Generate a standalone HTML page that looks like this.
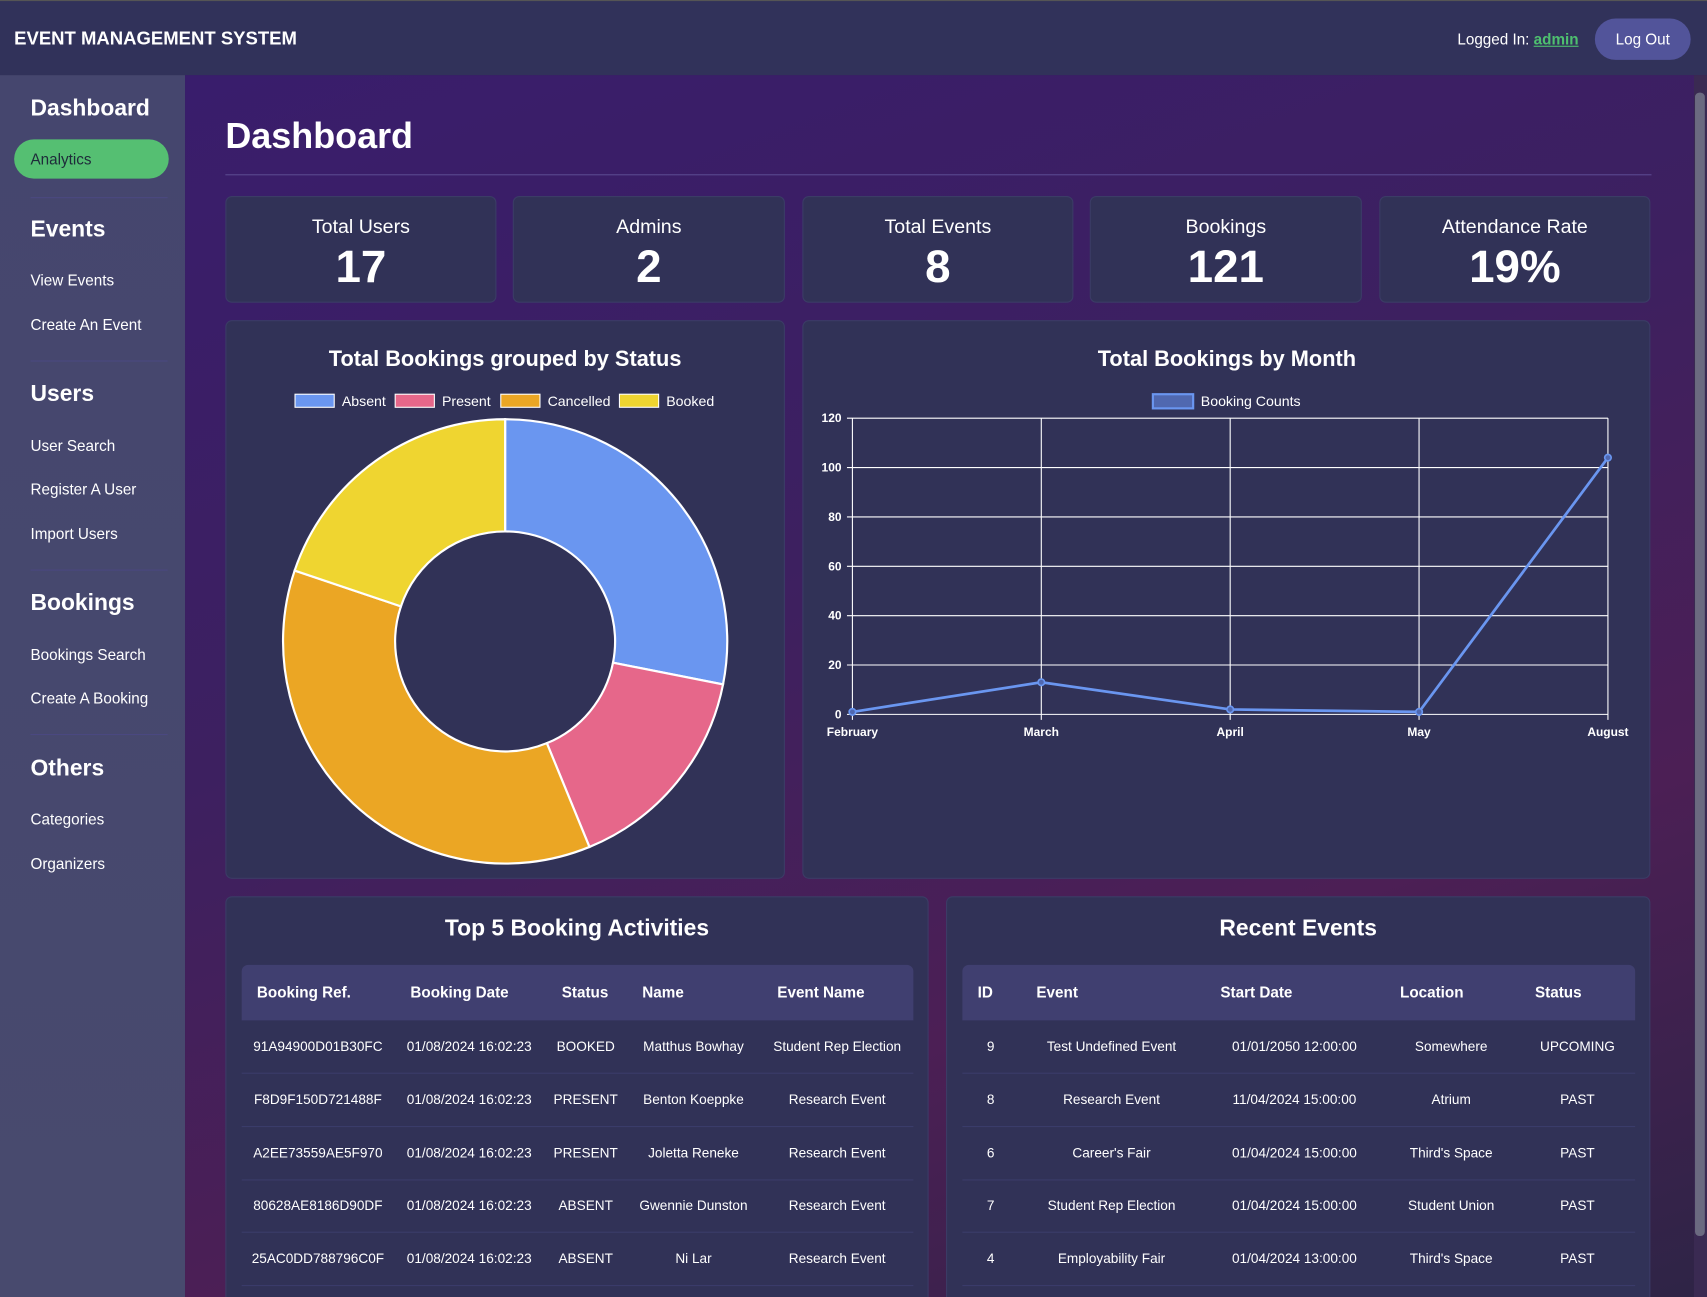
<!DOCTYPE html>
<html><head><meta charset="utf-8">
<style>
*{box-sizing:border-box;margin:0;padding:0}
html,body{width:1707px;height:1297px;overflow:hidden;background:#2b2a48}
#wrap{position:absolute;left:0;top:0;width:1568px;height:1191px;transform:scale(1.08865,1.08900);transform-origin:0 0;font-family:"Liberation Sans",sans-serif;color:#fff;overflow:hidden}
.abs{position:absolute}
#header{left:0;top:0;width:1568px;height:69px;background:#31325a;border-top:1px solid #555}
#sidebar{left:0;top:69px;width:170px;height:1122px;background:linear-gradient(180deg,#45466e,#484a6e)}
#main{left:170px;top:69px;width:1398px;height:1122px;background:linear-gradient(160deg,#391d6c 0%,#3d2060 40%,#4c1f55 70%,#2e2446 100%)}
.sh{position:absolute;left:28px;font-size:21px;font-weight:bold}
.sl{position:absolute;left:28px;font-size:14px}
.div{position:absolute;left:28px;width:126px;height:1px;background:#4a4880}
.card{position:absolute;background:#313257;border:1px solid #3b3c66;border-radius:6px}
.cl{position:absolute;width:100%;text-align:center;font-size:18px}
.cv{position:absolute;width:100%;text-align:center;font-size:42px;font-weight:bold}
.t{position:absolute;font-size:12.5px;white-space:nowrap;transform:translate(-50%,-50%)}
.th{position:absolute;font-size:14px;font-weight:bold;white-space:nowrap;transform:translateY(-50%)}
</style></head><body>
<div id="wrap">
<div id="header" class="abs">
  <div class="abs" style="left:13px;top:25px;font-size:17px;font-weight:bold">EVENT MANAGEMENT SYSTEM</div>
  <div class="abs" style="right:118px;top:27px;font-size:14px">Logged In: <a style="color:#4ec06f;font-weight:bold;text-decoration:underline">admin</a></div>
  <div class="abs" style="left:1465px;top:16px;width:88px;height:38px;border-radius:19px;background:#52549a;font-size:14px;text-align:center;line-height:38px">Log Out</div>
</div>
<div id="sidebar" class="abs">
  <div class="sh" style="top:19px">Dashboard</div>
  <div class="abs" style="left:13px;top:59px;width:142px;height:36px;border-radius:18px;background:#55bf72;color:#1e2b3a;font-size:14px;line-height:36px;padding-left:15px">Analytics</div>
  <div class="div" style="top:112px"></div>
  <div class="sh" style="top:130px">Events</div>
  <div class="sl" style="top:180px">View Events</div>
  <div class="sl" style="top:221px">Create An Event</div>
  <div class="div" style="top:262px"></div>
  <div class="sh" style="top:281px">Users</div>
  <div class="sl" style="top:332px">User Search</div>
  <div class="sl" style="top:372px">Register A User</div>
  <div class="sl" style="top:413px">Import Users</div>
  <div class="div" style="top:454px"></div>
  <div class="sh" style="top:473px">Bookings</div>
  <div class="sl" style="top:524px">Bookings Search</div>
  <div class="sl" style="top:564px">Create A Booking</div>
  <div class="div" style="top:605px"></div>
  <div class="sh" style="top:625px">Others</div>
  <div class="sl" style="top:675px">Categories</div>
  <div class="sl" style="top:716px">Organizers</div>
</div>
<div id="main" class="abs"></div>
<div class="abs" style="left:1556px;top:69px;width:12px;height:1122px;background:#3a2a52"></div>
<div class="abs" style="left:1557px;top:85px;width:9px;height:1050px;background:#6b6a80;border-radius:4px"></div>

<div class="abs" style="left:207px;top:106px;font-size:33px;font-weight:bold">Dashboard</div>
<div class="abs" style="left:207px;top:160px;width:1310px;height:1px;background:#5a4a90"></div>

<div class="card" style="left:207px;top:180px;width:249px;height:98px"><div class="cl" style="top:17px">Total Users</div><div class="cv" style="top:40px">17</div></div>
<div class="card" style="left:471px;top:180px;width:250px;height:98px"><div class="cl" style="top:17px">Admins</div><div class="cv" style="top:40px">2</div></div>
<div class="card" style="left:737px;top:180px;width:249px;height:98px"><div class="cl" style="top:17px">Total Events</div><div class="cv" style="top:40px">8</div></div>
<div class="card" style="left:1001px;top:180px;width:250px;height:98px"><div class="cl" style="top:17px">Bookings</div><div class="cv" style="top:40px">121</div></div>
<div class="card" style="left:1267px;top:180px;width:249px;height:98px"><div class="cl" style="top:17px">Attendance Rate</div><div class="cv" style="top:40px">19%</div></div>

<div class="card" style="left:207px;top:294px;width:514px;height:513px"></div>
<div class="card" style="left:737px;top:294px;width:779px;height:513px"></div>
<svg class="abs" id="charts" style="left:0;top:0" width="1568" height="1191"></svg>

<div class="card" style="left:207px;top:823px;width:646px;height:380px">
  <div class="abs" style="left:0;width:100%;top:17px;text-align:center;font-size:21px;font-weight:bold">Top 5 Booking Activities</div>
</div>
<div class="card" style="left:869px;top:823px;width:647px;height:380px">
  <div class="abs" style="left:0;width:100%;top:17px;text-align:center;font-size:21px;font-weight:bold">Recent Events</div>
</div>
<div class="abs" style="left:222px;top:886px;width:617px;height:51px;background:#403f70;border-radius:6px 6px 0 0"></div>
<div class="abs" style="left:884px;top:886px;width:618px;height:51px;background:#403f70;border-radius:6px 6px 0 0"></div>
<div id="tables"></div>
</div>
<script>
// Doughnut data
const statusLabels=["Absent","Present","Cancelled","Booked"];
const statusValues=[34,19,44,24];
const statusColors=["#6a96f0","#e6678a","#eba624","#efd530"];
// Line data
const months=["February","March","April","May","August"];
const bookingCounts=[1,13,2,1,104];
const yTicks=[0,20,40,60,80,100,120];

const NS="http://www.w3.org/2000/svg";
const svg=document.getElementById('charts');
function mk(tag,attrs,name,parent){const e=document.createElementNS(NS,tag);for(const k in attrs)e.setAttribute(k,attrs[k]);


(parent||svg).appendChild(e);return e;}
function txt(x,y,s,size,weight,anchor,name){const e=mk('text',{x:x,y:y,'font-size':size,'font-weight':weight,'text-anchor':anchor,fill:'#fff','font-family':'Liberation Sans, sans-serif','dominant-baseline':'central'},name);e.textContent=s;return e;}

// Doughnut
txt(464,329,"Total Bookings grouped by Status",20,"bold","middle","status-chart-title");
const legX=[271,363,460,569];
statusLabels.forEach((l,i)=>{
  mk('rect',{x:legX[i],y:362,width:36,height:12,fill:statusColors[i],stroke:'#fff','stroke-width':1},'legend-swatch-'+l.toLowerCase());
  txt(legX[i]+43,368,l,13,"normal","start",'legend-entry-'+l.toLowerCase());
});
const cx=464,cy=589,R=204,r0=101;
const total=statusValues.reduce((a,b)=>a+b,0);
let a0=0;
statusValues.forEach((v,i)=>{
  const a1=a0+v/total*2*Math.PI;
  const p=(a,rr)=>[cx+rr*Math.sin(a),cy-rr*Math.cos(a)];
  const [x1,y1]=p(a0,R),[x2,y2]=p(a1,R),[x3,y3]=p(a1,r0),[x4,y4]=p(a0,r0);
  const lg=(a1-a0)>Math.PI?1:0;
  mk('path',{d:`M${x1},${y1}A${R},${R} 0 ${lg} 1 ${x2},${y2}L${x3},${y3}A${r0},${r0} 0 ${lg} 0 ${x4},${y4}Z`,fill:statusColors[i],stroke:'#fff','stroke-width':2},'slice-'+statusLabels[i].toLowerCase());
  a0=a1;
});

// Line chart
txt(1127,329,"Total Bookings by Month",20,"bold","middle","month-chart-title");
mk('rect',{x:1059,y:362,width:37,height:13,fill:'#5068b0',stroke:'#6a96f0','stroke-width':2},'legend-swatch-booking-counts');
txt(1103,368,"Booking Counts",13,"normal","start","legend-entry-booking-counts");
const X0=783,X1=1477,Y0=656,Y1=384,yMax=120;
const xs=i=>X0+(X1-X0)*i/(months.length-1);
const ys=v=>Y0-(Y0-Y1)*v/yMax;
yTicks.forEach(t=>{
  mk('line',{x1:X0-5,x2:X1,y1:ys(t),y2:ys(t),stroke:'#fff','stroke-width':1},'y-gridline-'+t);
  txt(X0-10,ys(t),String(t),11,"bold","end",'y-tick-'+t);
});
months.forEach((m,i)=>{
  mk('line',{x1:xs(i),x2:xs(i),y1:Y1,y2:Y0+5,stroke:'#fff','stroke-width':1},'x-gridline-'+m.toLowerCase());
  txt(xs(i),672,m,11,"bold","middle",'x-tick-'+m.toLowerCase());
});
mk('polyline',{points:bookingCounts.map((v,i)=>xs(i)+','+ys(v)).join(' '),fill:'none',stroke:'#6a96f0','stroke-width':2.5},'booking-count-line');
bookingCounts.forEach((v,i)=>mk('circle',{cx:xs(i),cy:ys(v),r:3,fill:'#5068b0',stroke:'#6a96f0','stroke-width':1.5},'point-'+months[i].toLowerCase()));

// Tables
const bookHead=["Booking Ref.","Booking Date","Status","Name","Event Name"];
const bookHeadX=[236,377,516,590,714];
const bookColX=[292,431,538,637,769];
const bookRows=[
["91A94900D01B30FC","01/08/2024 16:02:23","BOOKED","Matthus Bowhay","Student Rep Election"],
["F8D9F150D721488F","01/08/2024 16:02:23","PRESENT","Benton Koeppke","Research Event"],
["A2EE73559AE5F970","01/08/2024 16:02:23","PRESENT","Joletta Reneke","Research Event"],
["80628AE8186D90DF","01/08/2024 16:02:23","ABSENT","Gwennie Dunston","Research Event"],
["25AC0DD788796C0F","01/08/2024 16:02:23","ABSENT","Ni Lar","Research Event"]];
const evHead=["ID","Event","Start Date","Location","Status"];
const evHeadX=[898,952,1121,1286,1410];
const evColX=[910,1021,1189,1333,1449];
const evRows=[
["9","Test Undefined Event","01/01/2050 12:00:00","Somewhere","UPCOMING"],
["8","Research Event","11/04/2024 15:00:00","Atrium","PAST"],
["6","Career's Fair","01/04/2024 15:00:00","Third's Space","PAST"],
["7","Student Rep Election","01/04/2024 15:00:00","Student Union","PAST"],
["4","Employability Fair","01/04/2024 13:00:00","Third's Space","PAST"]];
const rowY=[961,1010,1059,1107,1156];
const T=document.getElementById('tables');
function tbl(head,hx,cx2,rows,left,width,prefix){
  head.forEach((h,i)=>{const d=document.createElement('div');d.className='th';d.style.left=hx[i]+'px';d.style.top='911px';d.textContent=h;
  
  
  T.appendChild(d);});
  rows.forEach((r,j)=>{
    r.forEach((c,i)=>{const d=document.createElement('div');d.className='t';d.style.left=cx2[i]+'px';d.style.top=rowY[j]+'px';d.textContent=c;
    
    
    T.appendChild(d);});
    const ln=document.createElement('div');ln.className='abs';ln.style.cssText=`left:${left}px;top:${rowY[j]+24}px;width:${width}px;height:1px;background:#3b3c6a`;
    
    
    T.appendChild(ln);
  });
}
tbl(bookHead,bookHeadX,bookColX,bookRows,222,617,'bookings-table');
tbl(evHead,evHeadX,evColX,evRows,884,618,'events-table');
</script>
</body></html>
